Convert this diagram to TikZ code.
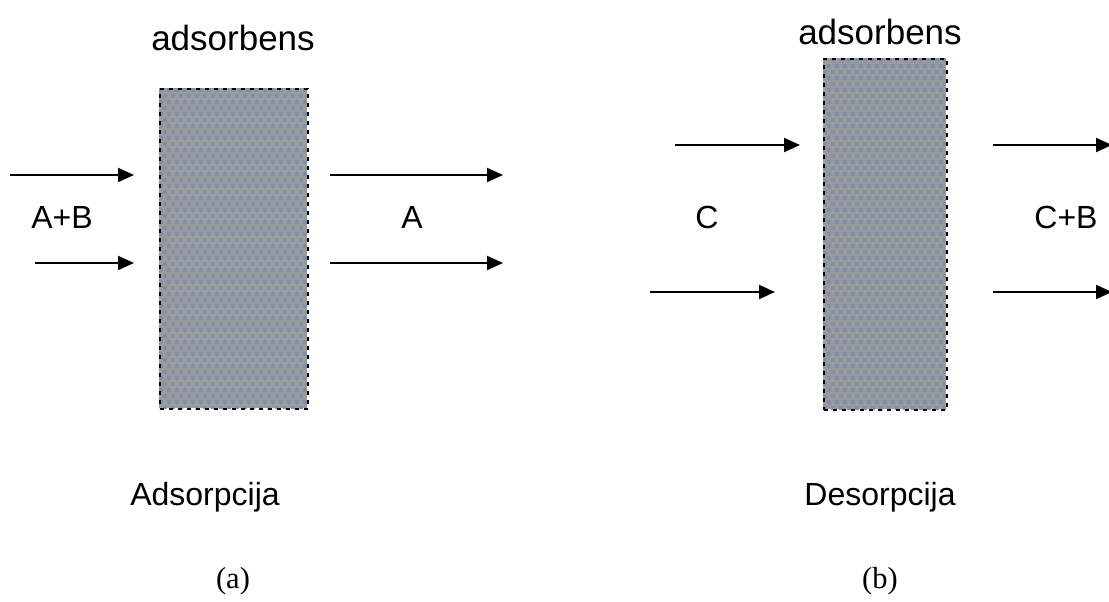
\documentclass[tikz,border=0pt]{standalone}
\usepackage{fontspec}
\setmainfont{Liberation Serif}
\newfontfamily\arialf{Liberation Sans}
\usetikzlibrary{arrows.meta}
\definecolor{boxgray}{HTML}{9B9B9B}
\definecolor{dotblue}{HTML}{7F8FAD}
\tikzset{
  flow/.style={line width=2pt,-{Triangle[length=16pt,width=14pt]}},
  sorb/.style={draw=black,line width=2pt,dash pattern=on 4pt off 5pt},
  lbl/.style={font=\arialf\fontsize{32}{36}\selectfont,inner sep=0pt},
  ttl/.style={font=\arialf\fontsize{35}{40}\selectfont,inner sep=0pt},
  captxt/.style={font=\fontsize{30.5}{34}\selectfont,inner sep=0pt}
}
\newcommand{\sorbbox}[5]{% name, x1, y1, x2, y2
  \fill[boxgray] (#2,#3) rectangle (#4,#5);
  \begin{scope}
    \clip (#2,#3) rectangle (#4,#5);
    \foreach \yy in {0,6,...,360}{
      \pgfmathsetmacro{\off}{mod(\yy,12)==0 ? 0 : 4}
      \foreach \xx in {0,8,...,160}{
        \fill[dotblue] ({#2+\xx+\off},{#3-\yy}) rectangle ++(4,-4);
      }
    }
  \end{scope}
  \node[sorb,inner sep=0pt,minimum width={#4-#2},minimum height={#3-#5},anchor=north west] (#1) at (#2,#3) {};
}
\begin{document}
\begin{tikzpicture}[x=1pt,y=1pt]
\useasboundingbox (0,0) rectangle (1109,-602);
% boxes
\sorbbox{boxa}{159}{-88}{307}{-408}
\sorbbox{boxb}{823}{-58}{946}{-409}
% titles
\node[ttl] (ta) at (233,-38) {adsorbens};
\node[ttl] (tb) at (880,-32) {adsorbens};
% arrows (a)
\coordinate (a1s) at (10,-175); \coordinate (a1e) at (134,-175);
\coordinate (a2s) at (35,-263); \coordinate (a2e) at (134,-263);
\coordinate (a3s) at (330,-175); \coordinate (a3e) at (503,-175);
\coordinate (a4s) at (330,-263); \coordinate (a4e) at (503,-263);
\draw[flow] (a1s) -- (a1e);
\draw[flow] (a2s) -- (a2e);
\draw[flow] (a3s) -- (a3e);
\draw[flow] (a4s) -- (a4e);
% arrows (b)
\coordinate (b1s) at (675,-145); \coordinate (b1e) at (800,-145);
\coordinate (b2s) at (650,-292); \coordinate (b2e) at (775,-292);
\coordinate (b3s) at (993,-145); \coordinate (b3e) at (1112,-145);
\coordinate (b4s) at (993,-292); \coordinate (b4e) at (1112,-292);
\draw[flow] (b1s) -- (b1e);
\draw[flow] (b2s) -- (b2e);
\draw[flow] (b3s) -- (b3e);
\draw[flow] (b4s) -- (b4e);
% labels
\node[lbl] (lab) at (62,-217) {A+B};
\node[lbl] (la) at (412,-217) {A};
\node[lbl] (lc) at (707,-217) {C};
\node[lbl] (lcb) at (1066,-217) {C+B};
\node[lbl] (ads) at (205,-497) {Adsorpcija};
\node[lbl] (des) at (880,-497) {Desorpcija};
\node[captxt] (ca) at (233,-581) {(a)};
\node[captxt] (cb) at (880,-581) {(b)};
\end{tikzpicture}
\end{document}
